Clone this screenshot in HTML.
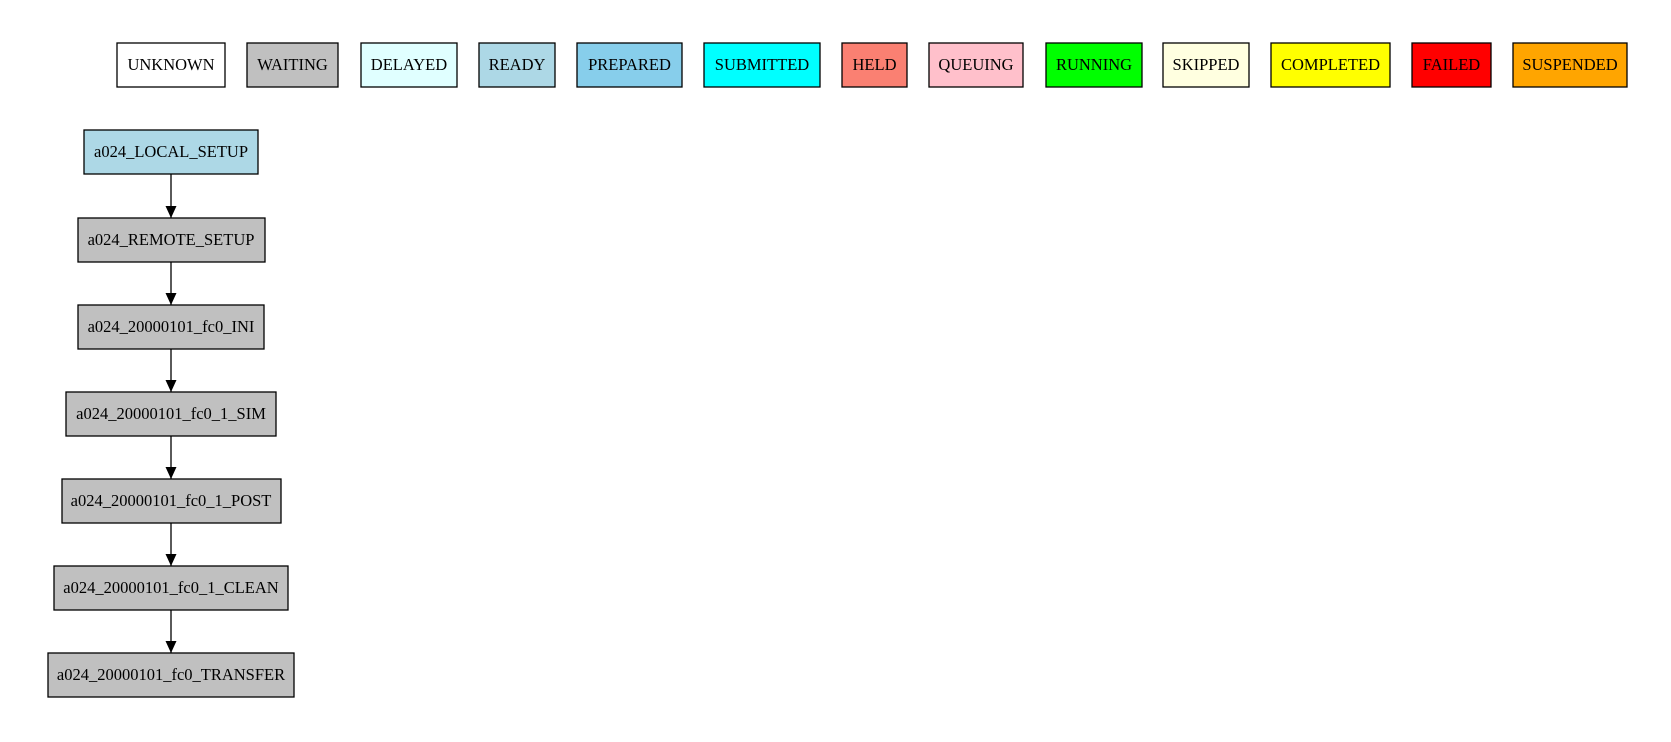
<!DOCTYPE html>
<html><head><meta charset="utf-8"><style>
html,body{margin:0;padding:0;background:#fff;width:1671px;height:742px;overflow:hidden}
text{font-family:"Liberation Serif",serif;font-size:16.5px;fill:#000}
</style></head><body>
<svg width="1671" height="742" viewBox="0 0 1671 742" xmlns="http://www.w3.org/2000/svg">
<defs><marker id="a" markerWidth="12" markerHeight="14" refX="12" refY="7" orient="auto" markerUnits="userSpaceOnUse"><path d="M0,1.5 L12,7 L0,12.5 Z" fill="#000"/></marker></defs>
<g stroke="#000" stroke-width="1.3" text-anchor="middle">
<rect x="117" y="43" width="108" height="44" fill="#fff"/>
<rect x="247" y="43" width="91" height="44" fill="#c0c0c0"/>
<rect x="361" y="43" width="96" height="44" fill="#e0ffff"/>
<rect x="479" y="43" width="76" height="44" fill="#add8e6"/>
<rect x="577" y="43" width="105" height="44" fill="#87ceeb"/>
<rect x="704" y="43" width="116" height="44" fill="#00ffff"/>
<rect x="842" y="43" width="65" height="44" fill="#fa8072"/>
<rect x="929" y="43" width="94" height="44" fill="#ffc0cb"/>
<rect x="1046" y="43" width="96" height="44" fill="#00ff00"/>
<rect x="1163" y="43" width="86" height="44" fill="#ffffe0"/>
<rect x="1271" y="43" width="119" height="44" fill="#ffff00"/>
<rect x="1412" y="43" width="79" height="44" fill="#ff0000"/>
<rect x="1513" y="43" width="114" height="44" fill="#ffa500"/>

<rect x="84" y="130" width="174" height="44" fill="#add8e6"/>
<rect x="78" y="218" width="187" height="44" fill="#c0c0c0"/>
<rect x="78" y="305" width="186" height="44" fill="#c0c0c0"/>
<rect x="66" y="392" width="210" height="44" fill="#c0c0c0"/>
<rect x="62" y="479" width="219" height="44" fill="#c0c0c0"/>
<rect x="54" y="566" width="234" height="44" fill="#c0c0c0"/>
<rect x="48" y="653" width="246" height="44" fill="#c0c0c0"/>

<line x1="171" y1="174" x2="171" y2="218" marker-end="url(#a)"/>
<line x1="171" y1="262" x2="171" y2="305" marker-end="url(#a)"/>
<line x1="171" y1="349" x2="171" y2="392" marker-end="url(#a)"/>
<line x1="171" y1="436" x2="171" y2="479" marker-end="url(#a)"/>
<line x1="171" y1="523" x2="171" y2="566" marker-end="url(#a)"/>
<line x1="171" y1="610" x2="171" y2="653" marker-end="url(#a)"/>
</g>
<g text-anchor="middle">
<text x="171" y="70">UNKNOWN</text>
<text x="292.5" y="70">WAITING</text>
<text x="409" y="70">DELAYED</text>
<text x="517" y="70">READY</text>
<text x="629.5" y="70">PREPARED</text>
<text x="762" y="70">SUBMITTED</text>
<text x="874.5" y="70">HELD</text>
<text x="976" y="70">QUEUING</text>
<text x="1094" y="70">RUNNING</text>
<text x="1206" y="70">SKIPPED</text>
<text x="1330.5" y="70">COMPLETED</text>
<text x="1451.5" y="70">FAILED</text>
<text x="1570" y="70">SUSPENDED</text>

<text x="171" y="157">a024_LOCAL_SETUP</text>
<text x="171" y="245">a024_REMOTE_SETUP</text>
<text x="171" y="332">a024_20000101_fc0_INI</text>
<text x="171" y="419">a024_20000101_fc0_1_SIM</text>
<text x="171" y="506">a024_20000101_fc0_1_POST</text>
<text x="171" y="593">a024_20000101_fc0_1_CLEAN</text>
<text x="171" y="680">a024_20000101_fc0_TRANSFER</text>
</g>
</svg>
</body></html>
